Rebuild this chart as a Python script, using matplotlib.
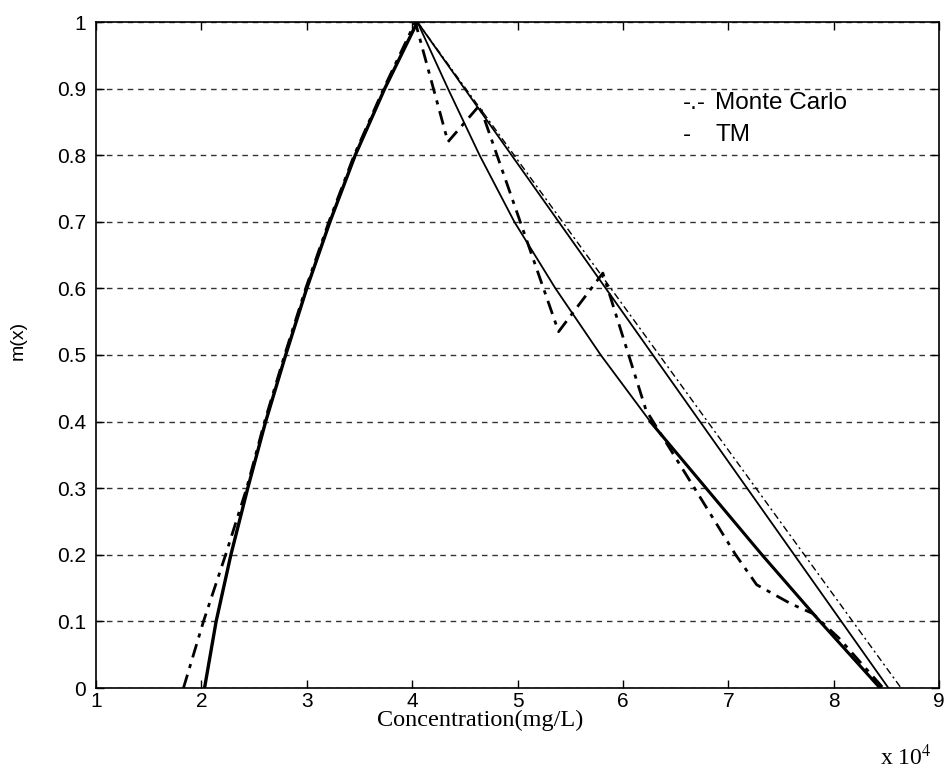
import matplotlib
matplotlib.use("Agg")
import matplotlib.pyplot as plt
import numpy as np

# ---- data (x in units of 1e4 mg/L) ----
tm_left_x = [2.03, 2.14, 2.28, 2.44, 2.61, 2.80, 3.00, 3.22, 3.46, 3.74, 4.05]
tm_left_y = [0.0, 0.1, 0.2, 0.3, 0.4, 0.5, 0.6, 0.7, 0.8, 0.9, 1.0]

tm_lower_x = [4.05, 4.34, 4.64, 4.97, 5.36, 5.79, 6.26, 6.79, 7.32, 7.87, 8.44]
tm_lower_y = [1.0, 0.9, 0.8, 0.7, 0.6, 0.5, 0.4, 0.3, 0.2, 0.1, 0.0]

tm_upper_x = [4.05, 8.52]
tm_upper_y = [1.0, 0.0]

mc_left_x = [1.83, 2.02, 2.23, 2.43, 2.60, 2.79, 2.99, 3.21, 3.45, 3.73, 4.03]
mc_left_y = [0.0, 0.1, 0.2, 0.3, 0.4, 0.5, 0.6, 0.7, 0.8, 0.9, 1.0]

mc_lower_x = [4.03, 4.34, 4.64, 5.39, 5.81, 6.22, 6.68, 7.07, 7.27, 7.60, 7.80, 8.05, 8.47]
mc_lower_y = [1.0, 0.82, 0.875, 0.535, 0.623, 0.417, 0.30, 0.20, 0.155, 0.126, 0.112, 0.075, 0.0]

mc_upper_x = [4.05, 8.64]
mc_upper_y = [1.0, 0.0]

xticks = [1, 2, 3, 4, 5, 6, 7, 8, 9]
yticks = [0, 0.1, 0.2, 0.3, 0.4, 0.5, 0.6, 0.7, 0.8, 0.9, 1]
ytick_labels = ["0", "0.1", "0.2", "0.3", "0.4", "0.5", "0.6", "0.7", "0.8", "0.9", "1"]

W, H = 948, 774
fig = plt.figure(figsize=(W/100, H/100), dpi=100)
ax = fig.add_axes([96/W, 1-688/H, (939-96)/W, (688-22)/H])

tickfont = dict(family=["Liberation Sans", "DejaVu Sans"], size=15)

ax.set_yticks(yticks)
ax.set_xticks(xticks)
ax.yaxis.grid(True, linestyle=(0, (4, 3.5)), color="#333333", linewidth=1.0)
ax.xaxis.grid(False)
ax.set_axisbelow(True)

# TM (solid)
ax.plot(tm_left_x + tm_upper_x[1:], tm_left_y + tm_upper_y[1:], color="black", lw=1.3, ls="-")
ax.plot(tm_left_x + tm_lower_x[1:], tm_left_y + tm_lower_y[1:], color="black", lw=1.3, ls="-")
ax.plot(tm_left_x, tm_left_y, color="black", lw=2.4, ls="-")
ax.plot(tm_lower_x[6:], tm_lower_y[6:], color="black", lw=2.2, ls="-")

# Monte Carlo (dash-dot)
dd = (0, (5, 2.5, 1.5, 2.5))
ax.plot(mc_left_x + mc_lower_x[1:], mc_left_y + mc_lower_y[1:], color="black", lw=2.0, ls=dd)
ax.plot(mc_upper_x, mc_upper_y, color="black", lw=1.0, ls=dd)

ax.set_xlim(1, 9)
ax.set_ylim(0, 1)
ax.set_yticklabels(ytick_labels, fontdict=tickfont)
ax.set_xticklabels([str(v) for v in xticks], fontdict=tickfont)
ax.tick_params(axis="y", direction="in", length=6, width=1, right=True, pad=7)
ax.tick_params(axis="x", direction="in", length=6, width=1, top=True, pad=3)
for s in ax.spines.values():
    s.set_linewidth(1.2)
    s.set_color("black")

fig.text(480/W, 1-720/H, "Concentration(mg/L)", fontsize=17.5,
         family=["Liberation Serif", "DejaVu Serif"], ha="center", va="center")
fig.text(18/W, 1-340/H, "m(x)", fontsize=14, rotation=90,
         family=["Liberation Sans", "DejaVu Sans"], ha="center", va="center")

fig.text(880/W, 1-757/H, r"x 10$^4$", fontsize=17, family=["Liberation Serif", "DejaVu Serif"],
         va="center", ha="left", math_fontfamily="stix")

# legend as text
lf = dict(fontsize=17.5, family=["Liberation Sans", "DejaVu Sans"], va="center", ha="left")
fig.text(683/W, 1-103/H, "-.-", **lf)
fig.text(715/W, 1-103/H, "Monte Carlo", **lf)
fig.text(683/W, 1-135/H, "-", **lf)
fig.text(715/W, 1-135/H, "TM", **lf)

fig.savefig("out.png", dpi=100)
